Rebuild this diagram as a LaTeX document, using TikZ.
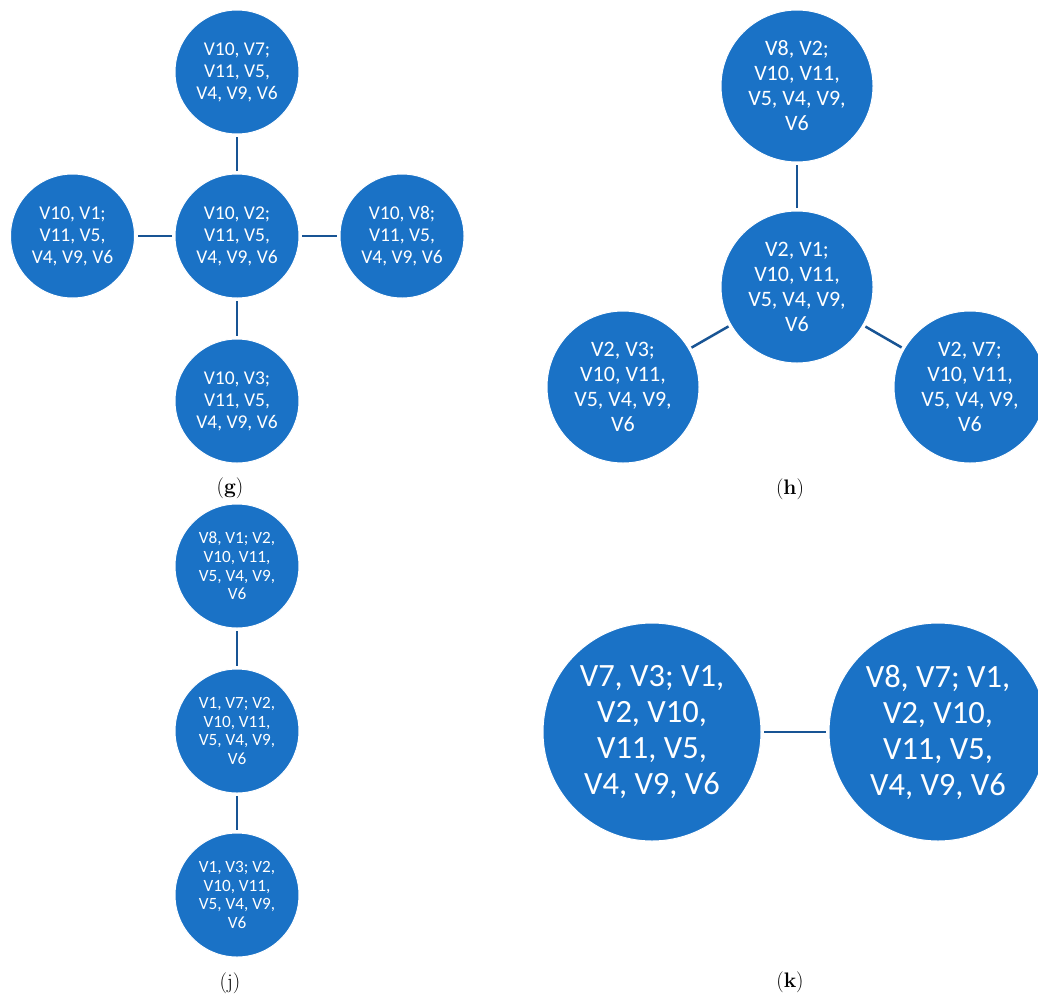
\documentclass[tikz,border=0pt]{standalone}
\usepackage{fontspec}
\newfontfamily\calib{Carlito}
\definecolor{cfill}{RGB}{26,114,198}
\definecolor{cline}{RGB}{24,84,148}
\begin{document}
\begin{tikzpicture}[x=1pt,y=-1pt,
  vbase/.style={circle,fill=cfill,draw=white,line width=1pt,inner sep=0pt,outer sep=3pt,text=white,align=center},
  vg/.style={vbase,minimum size=124pt,font=\calib\fontsize{19.5}{22}\selectfont},
  vh/.style={vbase,minimum size=152pt,font=\calib\fontsize{22}{25}\selectfont},
  vj/.style={vbase,minimum size=124pt,font=\calib\fontsize{17.2}{18.7}\selectfont},
  vk/.style={vbase,minimum size=218pt,font=\calib\fontsize{32.5}{36}\selectfont},
  link/.style={draw=cline,line width=2.5pt},
  panellabel/.style={font=\fontsize{21}{24}\selectfont}]
\useasboundingbox (0,0) rectangle (1038,999);
\clip (0,0) rectangle (1038,999);
% panel g
\node[vg] (g0) at (237,236) {V10, V2;\\V11, V5,\\V4, V9, V6};
\node[vg] (g1) at (237,72) {V10, V7;\\V11, V5,\\V4, V9, V6};
\node[vg] (g2) at (72.5,236) {V10, V1;\\V11, V5,\\V4, V9, V6};
\node[vg] (g3) at (402,236) {V10, V8;\\V11, V5,\\V4, V9, V6};
\node[vg] (g4) at (237,401) {V10, V3;\\V11, V5,\\V4, V9, V6};
\draw[link] (g0) -- (g1);
\draw[link] (g0) -- (g2);
\draw[link] (g0) -- (g3);
\draw[link] (g0) -- (g4);
\node[panellabel] (lg) at (230,488) {(\textbf{g})};
% panel h
\node[vh] (h0) at (797,287) {V2, V1;\\V10, V11,\\V5, V4, V9,\\V6};
\node[vh] (h1) at (797,86) {V8, V2;\\V10, V11,\\V5, V4, V9,\\V6};
\node[vh] (h2) at (623,387) {V2, V3;\\V10, V11,\\V5, V4, V9,\\V6};
\node[vh] (h3) at (970,387) {V2, V7;\\V10, V11,\\V5, V4, V9,\\V6};
\draw[link] (h0) -- (h1);
\draw[link] (h0) -- (h2);
\draw[link] (h0) -- (h3);
\node[panellabel] (lh) at (790,489) {(\textbf{h})};
% panel j
\node[vj] (j1) at (237,566) {V8, V1; V2,\\V10, V11,\\V5, V4, V9,\\V6};
\node[vj] (j2) at (237,731) {V1, V7; V2,\\V10, V11,\\V5, V4, V9,\\V6};
\node[vj] (j3) at (237,895) {V1, V3; V2,\\V10, V11,\\V5, V4, V9,\\V6};
\draw[link] (j1) -- (j2);
\draw[link] (j2) -- (j3);
\node[panellabel] (lj) at (230,983) {(j)};
% panel k
\node[vk] (k1) at (652,732) {V7, V3; V1,\\V2, V10,\\V11, V5,\\V4, V9, V6};
\node[vk] (k2) at (938,732) {V8, V7; V1,\\V2, V10,\\V11, V5,\\V4, V9, V6};
\draw[link] (k1) -- (k2);
\node[panellabel] (lk) at (790,982) {(\textbf{k})};
\end{tikzpicture}
\end{document}
